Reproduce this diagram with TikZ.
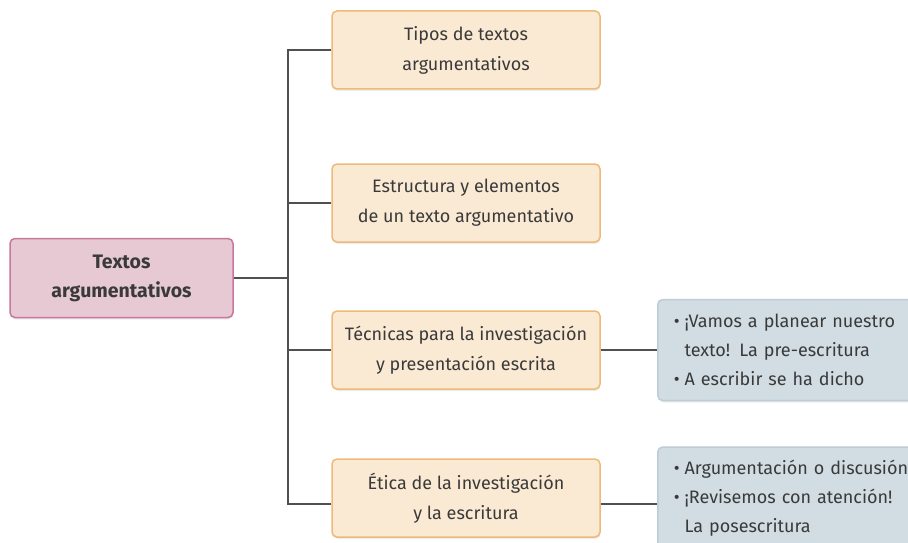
\documentclass[tikz,border=0pt]{standalone}
\usepackage{fontspec}
\setmainfont{Fira Sans}
\usetikzlibrary{shadows}
\definecolor{ofill}{HTML}{FBEAD3}
\definecolor{oborder}{HTML}{EDBB78}
\definecolor{mfill}{HTML}{E7C9D4}
\definecolor{mborder}{HTML}{C9779A}
\definecolor{bfill}{HTML}{D1DDE3}
\definecolor{bborder}{HTML}{BFCCD4}
\definecolor{linegray}{HTML}{505050}
\definecolor{txt}{HTML}{3A3A3A}
\begin{document}
\begin{tikzpicture}[x=1pt,y=-1pt,
  topicbox/.style={draw=oborder, fill=ofill, rounded corners=5pt, line width=1.5pt,
    minimum width=268pt, minimum height=78pt, align=center, text=txt,
    font=\fontsize{18}{30}\selectfont,
    drop shadow={opacity=0.15, shadow xshift=0.5pt, shadow yshift=-2pt}},
  mainbox/.style={draw=mborder, fill=mfill, rounded corners=5pt, line width=1.5pt,
    minimum width=223pt, minimum height=79pt, align=center, text=txt,
    font=\fontsize{19.5}{29}\selectfont\bfseries,
    drop shadow={opacity=0.15, shadow xshift=0.5pt, shadow yshift=-2pt}},
  listbox/.style={draw=bborder, fill=bfill, rounded corners=5pt, line width=1.5pt,
    text width=262pt, inner xsep=16pt, minimum height=101pt, align=left, text=txt,
    font=\fontsize{18}{29}\selectfont, anchor=west,
    drop shadow={opacity=0.15, shadow xshift=0.5pt, shadow yshift=-2pt}},
  conn/.style={draw=linegray, line width=1.5pt}
]
\useasboundingbox (0,0) rectangle (908,543);
\clip (0,0) rectangle (908,543);

\node[mainbox] (main) at (121.5,278) {Textos\\argumentativos};
\node[topicbox] (b1) at (466,50) {Tipos de textos\\argumentativos};
\node[topicbox] (b2) at (466,203) {Estructura y elementos\\de un texto argumentativo};
\node[topicbox] (b3) at (466,350) {Técnicas para la investigación\\y presentación escrita};
\node[topicbox] (b4) at (466,498) {Ética de la investigación\\y la escritura};

\node[listbox] (l3) at (657,350) {\textbullet\hspace{5pt}¡Vamos a planear nuestro\\\phantom{\textbullet}\hspace{5pt}texto! La pre-escritura\\\textbullet\hspace{5pt}A escribir se ha dicho};
\node[listbox, minimum height=102pt] (l4) at (657,498) {\textbullet\hspace{5pt}Argumentación o discusión\\\textbullet\hspace{5pt}¡Revisemos con atención!\\\phantom{\textbullet}\hspace{5pt}La posescritura};

\coordinate (j) at (288,278);
\draw[conn] (main.east) -- (j);
\draw[conn] (b1.west) -| (j);
\draw[conn] (b2.west) -| (j);
\draw[conn] (b3.west) -| (j);
\draw[conn] ([yshift=-6pt]b4.west) -| (j);
\draw[conn] (b3.east) -- (l3.west);
\draw[conn] ([yshift=-6pt]b4.east) -- ([yshift=-6pt]l4.west);
\end{tikzpicture}
\end{document}
